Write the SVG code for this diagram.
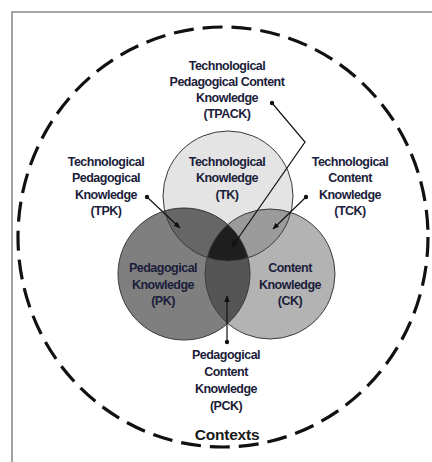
<svg xmlns="http://www.w3.org/2000/svg" width="432" height="462" viewBox="0 0 432 462">
  <defs>
    <style>
      .lbl { font-family: "Liberation Sans", Arial, sans-serif; font-weight: bold; font-size: 12.5px; letter-spacing: -0.5px; fill: #1b1d3a; text-anchor: middle; }
      .ctx { font-family: "Liberation Sans", Arial, sans-serif; font-weight: bold; font-size: 15.5px; letter-spacing: -0.2px; fill: #1a1a1a; text-anchor: middle; }
      .ring { fill: none; stroke: #3a3a3a; stroke-width: 1; }
      .lead { fill: none; stroke: #111; stroke-width: 1.2; }
      .dot { fill: #111; }
    </style>
    <clipPath id="clipTK"><circle cx="228" cy="196" r="65"/></clipPath>
    <clipPath id="clipPK"><circle cx="184" cy="274" r="66"/></clipPath>
    <marker id="arrow" viewBox="0 0 10 10" refX="9" refY="5" markerWidth="7" markerHeight="7" orient="auto" markerUnits="userSpaceOnUse">
      <path d="M0,1 L10,5 L0,9 z" fill="#111"/>
    </marker>
  </defs>

  <rect width="432" height="462" fill="#fff"/>
  <!-- page frame -->
  <path d="M12,462 V12 H432" fill="none" stroke="#8a8a8a" stroke-width="1.6"/>

  <!-- contexts boundary -->
  <g id="contexts">
    <ellipse cx="223" cy="237" rx="205" ry="210" fill="none" stroke="#111" stroke-width="3.2" stroke-dasharray="20 9"/>
    <text class="ctx" x="227" y="440">Contexts</text>
  </g>

  <!-- three knowledge domains and their overlaps -->
  <g id="venn">
    <circle id="TK" cx="228" cy="196" r="65" fill="#e4e4e4"/>
    <circle id="PK" cx="184" cy="274" r="66" fill="#7f7f7f"/>
    <circle id="CK" cx="270" cy="274" r="65" fill="#b3b3b3"/>
    <g id="PCK" clip-path="url(#clipPK)"><circle cx="270" cy="274" r="65" fill="#555555"/></g>
    <g id="TPK" clip-path="url(#clipTK)"><circle cx="184" cy="274" r="66" fill="#666666"/></g>
    <g id="TCK" clip-path="url(#clipTK)"><circle cx="270" cy="274" r="65" fill="#9b9b9b"/></g>
    <g id="TPACK" clip-path="url(#clipTK)"><g clip-path="url(#clipPK)"><circle cx="270" cy="274" r="65" fill="#1e1e1e"/></g></g>
    <circle class="ring" cx="228" cy="196" r="65"/>
    <circle class="ring" cx="184" cy="274" r="66"/>
    <circle class="ring" cx="270" cy="274" r="65"/>
  </g>

  <!-- labels -->
  <g id="label-TPACK">
    <text class="lbl" x="227" y="70">Technological</text>
    <text class="lbl" x="227" y="86">Pedagogical Content</text>
    <text class="lbl" x="227" y="102">Knowledge</text>
    <text class="lbl" x="227" y="118">(TPACK)</text>
  </g>
  <g id="label-TK">
    <text class="lbl" x="227" y="166">Technological</text>
    <text class="lbl" x="227" y="182">Knowledge</text>
    <text class="lbl" x="227" y="199">(TK)</text>
  </g>
  <g id="label-TPK">
    <text class="lbl" x="106" y="166">Technological</text>
    <text class="lbl" x="106" y="182">Pedagogical</text>
    <text class="lbl" x="106" y="199">Knowledge</text>
    <text class="lbl" x="106" y="215">(TPK)</text>
  </g>
  <g id="label-TCK">
    <text class="lbl" x="350" y="166">Technological</text>
    <text class="lbl" x="350" y="182">Content</text>
    <text class="lbl" x="350" y="199">Knowledge</text>
    <text class="lbl" x="350" y="215">(TCK)</text>
  </g>
  <g id="label-PK">
    <text class="lbl" x="163" y="272">Pedagogical</text>
    <text class="lbl" x="163" y="289">Knowledge</text>
    <text class="lbl" x="163" y="305">(PK)</text>
  </g>
  <g id="label-CK">
    <text class="lbl" x="290" y="272">Content</text>
    <text class="lbl" x="290" y="289">Knowledge</text>
    <text class="lbl" x="290" y="305">(CK)</text>
  </g>
  <g id="label-PCK">
    <text class="lbl" x="226" y="359">Pedagogical</text>
    <text class="lbl" x="226" y="376">Content</text>
    <text class="lbl" x="226" y="393">Knowledge</text>
    <text class="lbl" x="226" y="410">(PCK)</text>
  </g>

  <!-- leader lines -->
  <g id="connectors">
    <polyline class="lead" points="272,103 305,142 232,247" marker-end="url(#arrow)"/>
    <circle class="dot" cx="272" cy="103" r="2.2"/>
    <line class="lead" x1="147" y1="197" x2="180" y2="228" marker-end="url(#arrow)"/>
    <circle class="dot" cx="147" cy="197" r="2.2"/>
    <line class="lead" x1="306" y1="197" x2="273" y2="229" marker-end="url(#arrow)"/>
    <circle class="dot" cx="306" cy="197" r="2.2"/>
    <line class="lead" x1="227" y1="342" x2="227" y2="296" marker-end="url(#arrow)"/>
    <circle class="dot" cx="227" cy="342" r="2.2"/>
  </g>
</svg>
